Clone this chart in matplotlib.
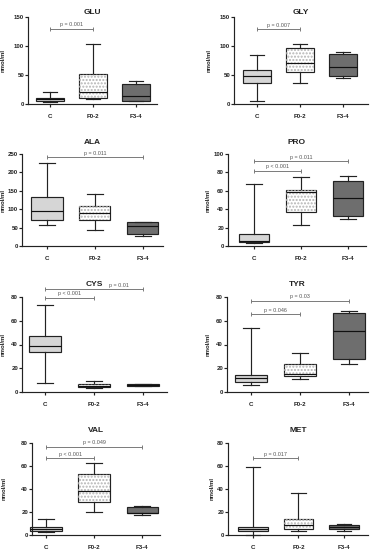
import numpy as np
import matplotlib.pyplot as plt
from matplotlib.patches import Rectangle

plt.rcParams['font.family'] = ['Liberation Sans', 'DejaVu Sans']

W, H = 372, 550

groups = ["C", "F0-2", "F3-4"]
fills = ["#d6d6d6", "#ffffff", "#6e6e6e"]

# box stats per group: min, q1, median, q3, max (nmol/ml)
glu = [[4, 6, 8, 11, 21], [8, 11, 21, 52, 103], [4.6, 5, 13, 35, 40]]
gly = [[4.6, 36.5, 48.5, 59, 84], [37, 55, 71, 97, 104], [44.5, 48, 64, 85.5, 90]]
ala = [[56, 69.5, 94, 132, 226], [44, 71, 89, 108, 140], [27, 32, 53, 65, 66]]
pro = [[3.6, 4.3, 5.5, 12.6, 67.6], [22.7, 37, 58.5, 61, 75], [29, 33, 52, 71, 76]]
cys = [[7.3, 33.3, 39, 47.5, 73.5], [3.5, 4, 5, 6.5, 9.5], [5, 5.3, 5.8, 6.5, 7]]
tyr = [[6, 8.8, 11.6, 14.4, 54], [11.3, 13.8, 15.5, 24, 33], [24, 27.7, 51, 66.4, 68]]
val = [[2.3, 3.5, 5, 7.3, 14.2], [19.8, 28.8, 38, 53, 63], [17, 19.2, 19.5, 24.4, 25]]
met = [[0.3, 3.2, 4.9, 6.7, 58.8], [3.5, 4.9, 8.7, 13.9, 36.8], [3.8, 5, 7, 9, 9.6]]

# significance brackets: text, from group, to group, height (, text x)
glu_p = [("p = 0.001", 1, 2, 130)]
gly_p = [("p = 0.007", 1, 2, 129)]
ala_p = [("p = 0.011", 1, 3, 241)]
pro_p = [("p < 0.001", 1, 2, 82), ("p = 0.011", 1, 3, 92)]
cys_p = [("p < 0.001", 1, 2, 79.4), ("p = 0.01", 1, 3, 86.4, 2.5)]
tyr_p = [("p = 0.046", 1, 2, 65.5), ("p = 0.03", 1, 3, 76.5)]
val_p = [("p < 0.001", 1, 2, 66.6), ("p = 0.049", 1, 3, 76.7)]
met_p = [("p = 0.017", 1, 2, 66.7)]

# y-axis ranges
glu_y = (150, 50)
gly_y = (150, 50)
ala_y = (250, 50)
pro_y = (100, 20)
cys_y = (80, 20)
tyr_y = (80, 20)
val_y = (80, 20)
met_y = (80, 20)

panels = [
    ("GLU", glu, glu_p, glu_y, (28, 157, 17, 104, 0.49, 3.49, 4, 12)),
    ("GLY", gly, gly_p, gly_y, (234, 368, 17, 104, 0.47, 3.58, 210, 12)),
    ("ALA", ala, ala_p, ala_y, (22, 163, 154, 246, 0.48, 3.42, 4, 142)),
    ("PRO", pro, pro_p, pro_y, (228, 366, 154, 246, 0.45, 3.38, 209, 142)),
    ("CYS", cys, cys_p, cys_y, (22, 167, 297, 392, 0.53, 3.49, 4, 284)),
    ("TYR", tyr, tyr_p, tyr_y, (227, 368, 297, 392, 0.51, 3.39, 209, 284)),
    ("VAL", val, val_p, val_y, (32, 160, 443, 535, 0.71, 3.37, 5, 431)),
    ("MET", met, met_p, met_y, (228, 368, 443, 535, 0.45, 3.53, 213, 430)),
]

fig = plt.figure(figsize=(W / 100, H / 100), dpi=100)
lw = 0.85
dark = "#222222"

for name, data, brackets, (ymax, ystep), lay in panels:
    left, right, top, bottom, xlo, xhi, lab_x, title_y = lay
    ax = fig.add_axes([left / W, 1 - bottom / H, (right - left) / W, (bottom - top) / H])
    stats = [dict(whislo=d[0], q1=d[1], med=d[2], q3=d[3], whishi=d[4], label=g)
             for d, g in zip(data, groups)]
    pos = np.arange(1, len(groups) + 1)
    bp = ax.bxp(stats, positions=pos, widths=0.65, patch_artist=True, showfliers=False,
                boxprops=dict(edgecolor=dark, linewidth=lw),
                medianprops=dict(color="#111111", linewidth=lw, zorder=4),
                whiskerprops=dict(color=dark, linewidth=lw),
                capprops=dict(color=dark, linewidth=lw))
    for box, fc in zip(bp["boxes"], fills):
        box.set_facecolor(fc)
        box.set_clip_on(False)
    # dotted texture on the F0-2 box
    d = data[1]
    ax.add_patch(Rectangle((pos[1] - 0.325, d[1]), 0.65, d[3] - d[1], facecolor="none",
                           edgecolor="#b4b4b4", linewidth=0, hatch=".....", zorder=3))
    for art in bp["whiskers"] + bp["caps"] + bp["medians"]:
        art.set_clip_on(False)

    ax.set_xlim(xlo, xhi)
    ax.set_ylim(0, ymax)
    ax.set_yticks(np.arange(0, ymax + 1, ystep))
    ax.set_xticks(pos)
    ax.set_xticklabels(groups)
    for s in ("top", "right"):
        ax.spines[s].set_visible(False)
    for s in ("left", "bottom"):
        ax.spines[s].set_linewidth(lw)
        ax.spines[s].set_color(dark)
    ax.tick_params(axis="y", length=2, width=lw, pad=0.8, labelsize=4.4, colors=dark)
    ax.tick_params(axis="x", length=2, width=lw, pad=5, labelsize=4.4, colors=dark)
    for t in ax.get_xticklabels() + ax.get_yticklabels():
        t.set_fontweight("bold")
    ax.set_ylabel("nmol/ml", fontsize=4.3, fontweight="bold", color=dark)
    ax.yaxis.set_label_coords((lab_x + 2 - left) / (right - left), 0.5)

    for br in brackets:
        txt, g1, g2, yv = br[:4]
        tx = br[4] if len(br) > 4 else (g1 + g2) / 2
        ax.plot([g1, g2], [yv, yv], color="#7a7a7a", linewidth=0.7, clip_on=False)
        ax.plot([g1, g2], [yv, yv], color="#7a7a7a", linestyle="none", marker="|",
                markersize=3.2, markeredgewidth=0.7, clip_on=False)
        ax.annotate(txt, xy=(tx, yv), xytext=(0, 1.2), textcoords="offset points",
                    ha="center", va="bottom", fontsize=3.9, color="#555555",
                    annotation_clip=False)

    fig.text(((left + right) / 2) / W, 1 - title_y / H, name, ha="center", va="center",
             fontsize=6, fontweight="bold", color=dark)

fig.savefig("out.png", dpi=100)
